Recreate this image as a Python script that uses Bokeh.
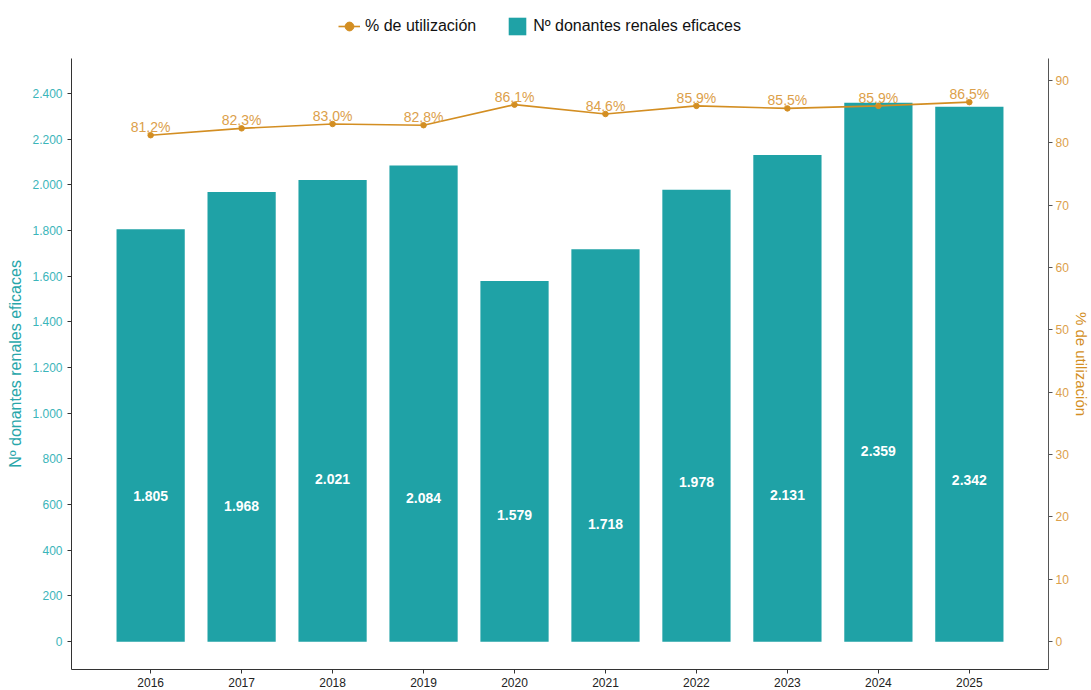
from bokeh.plotting import figure
from bokeh.layouts import column
from bokeh.models import (ColumnDataSource, Range1d, LinearAxis, FixedTicker,
                          Legend, LegendItem)
from bokeh.core.properties import value
from bokeh.embed import file_html
from bokeh.resources import INLINE

years = [2016, 2017, 2018, 2019, 2020, 2021, 2022, 2023, 2024, 2025]
donantes = [1805, 1968, 2021, 2084, 1579, 1718, 1978, 2131, 2359, 2342]
utilizacion = [81.2, 82.3, 83.0, 82.8, 86.1, 84.6, 85.9, 85.5, 85.9, 86.5]
donantes_labels = ["1.805", "1.968", "2.021", "2.084", "1.579", "1.718", "1.978", "2.131", "2.359", "2.342"]
util_labels = ["81,2%", "82,3%", "83,0%", "82,8%", "86,1%", "84,6%", "85,9%", "85,5%", "85,9%", "86,5%"]
# vertical placement of the white bar labels (axis units), as in the original
bar_label_y = [637, 593, 711, 628, 554, 515, 698, 641, 833, 707]
left_ticks = [0, 200, 400, 600, 800, 1000, 1200, 1400, 1600, 1800, 2000, 2200, 2400]
right_ticks = [0, 10, 20, 30, 40, 50, 60, 70, 80, 90]
legend_labels = ["% de utilización", "Nº donantes renales eficaces"]

BAR = "#1FA2A6"
TEAL_TXT = "#3BB5BA"
TEAL_TITLE = "#27A6AA"
GOLD = "#D38E22"
GOLD_TXT = "#DCA04A"
FONT = "Liberation Sans"

src = ColumnDataSource(dict(x=years, d=donantes, dl=donantes_labels, ly=bar_label_y))
lsrc = ColumnDataSource(dict(x=years, u=utilizacion, ul=util_labels))

FW, FH = 977, 611
p = figure(frame_width=FW, frame_height=FH, output_backend="svg", toolbar_location=None,
           x_range=Range1d(2015.13, 2025.87), y_range=Range1d(-122, 2553),
           min_border_left=71, min_border_right=30, min_border_top=16, min_border_bottom=18)
p.extra_y_ranges = {"pct": Range1d(-4.47, 93.5)}
p.outline_line_color = None
p.xgrid.visible = False
p.ygrid.visible = False

bars = p.vbar(x="x", top="d", width=0.75, source=src, fill_color=BAR, line_color=None)
p.text(x="x", y="ly", text="dl", source=src, text_color="white",
       text_font=value(FONT), text_font_style="bold", text_font_size="14px",
       text_align="center", text_baseline="middle")

ln = p.line(x="x", y="u", source=lsrc, y_range_name="pct", line_color=GOLD, line_width=1.6)
pts = p.scatter(x="x", y="u", source=lsrc, y_range_name="pct", size=5.5,
                fill_color=GOLD, line_color=GOLD)
p.text(x="x", y="u", text="ul", source=lsrc, y_range_name="pct", text_color=GOLD_TXT,
       text_font=value(FONT), text_font_size="14px", text_align="center",
       text_baseline="bottom", y_offset=0)

# left axis
ya = p.yaxis[0]
ya.ticker = FixedTicker(ticks=left_ticks)
ya.major_label_overrides = {t: (f"{t:,}".replace(",", ".")) for t in left_ticks}
ya.axis_label = "Nº donantes renales eficaces"
ya.axis_label_text_color = TEAL_TITLE
ya.axis_label_text_font = FONT
ya.axis_label_text_font_style = "normal"
ya.axis_label_text_font_size = "16px"
ya.major_label_text_color = TEAL_TXT
ya.major_label_text_font = FONT
ya.major_label_text_font_size = "12px"
ya.minor_tick_line_color = None
ya.major_tick_in = 0
ya.major_tick_out = 4
ya.axis_line_color = "#333333"
ya.major_tick_line_color = "#333333"

# right axis
ra = LinearAxis(y_range_name="pct", ticker=FixedTicker(ticks=right_ticks))
ra.axis_label = "% de utilización"
ra.axis_label_text_color = GOLD
ra.axis_label_text_font = FONT
ra.axis_label_text_font_style = "normal"
ra.axis_label_text_font_size = "15px"
ra.axis_label_standoff = 1
ra.major_label_standoff = 3
ra.major_label_text_color = GOLD_TXT
ra.major_label_text_font = FONT
ra.major_label_text_font_size = "12px"
ra.minor_tick_line_color = None
ra.major_tick_in = 0
ra.major_tick_out = 4
ra.axis_line_color = "#555555"
ra.major_tick_line_color = "#555555"
p.add_layout(ra, "right")

# bottom axis
xa = p.xaxis[0]
xa.ticker = FixedTicker(ticks=years)
xa.major_label_text_font = FONT
xa.major_label_text_font_size = "12px"
xa.major_label_text_color = "#222222"
xa.major_label_standoff = 4
xa.minor_tick_line_color = None
xa.major_tick_in = 0
xa.major_tick_out = 4
xa.axis_line_color = "#333333"
xa.major_tick_line_color = "#333333"

# legend strip above the chart (legend glyphs use placeholder renderers with no visible data)
lg = figure(width=1075, height=42, output_backend="svg", toolbar_location=None,
            x_range=Range1d(0, 1), y_range=Range1d(0, 1),
            x_axis_location=None, y_axis_location=None,
            min_border=0, outline_line_color=None)
lg.grid.visible = False
nan = float("nan")
empty = ColumnDataSource(dict(x=[nan], y=[nan]))
l_ln = lg.line(x="x", y="y", source=empty, line_color=GOLD, line_width=1.6)
l_pt = lg.scatter(x="x", y="y", source=empty, size=5.5, fill_color=GOLD, line_color=GOLD)
l_bar = lg.vbar(x="x", top="y", width=0.5, source=empty, fill_color=BAR, line_color=None)
legend = Legend(items=[LegendItem(label=legend_labels[0], renderers=[l_ln, l_pt]),
                       LegendItem(label=legend_labels[1], renderers=[l_bar])],
                orientation="horizontal", location=(267, 5),
                label_text_font=FONT, label_text_font_size="16px",
                label_text_color="#111111", glyph_width=22, glyph_height=22,
                spacing=30, border_line_color=None, background_fill_alpha=0,
                padding=4, margin=0)
lg.add_layout(legend, "center")

layout = column(lg, p, spacing=0)
open("out.html", "w").write(file_html(layout, INLINE))
